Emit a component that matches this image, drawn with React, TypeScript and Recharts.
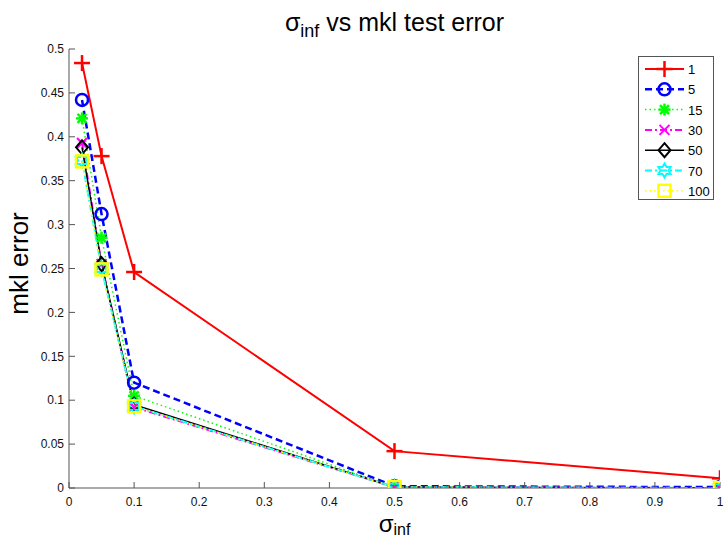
import React from 'react';
import { LineChart, Line, XAxis, YAxis } from 'recharts';

const sigmaValues = [0.02, 0.05, 0.1, 0.5, 1];
const seriesNames = ['1', '5', '15', '30', '50', '70', '100'];
const err1 = [0.484, 0.378, 0.246, 0.042, 0.011];
const err5 = [0.442, 0.312, 0.12, 0.002, 0.001];
const err15 = [0.421, 0.285, 0.105, 0.001, 0.0];
const err30 = [0.393, 0.255, 0.092, 0.001, 0.0];
const err50 = [0.388, 0.255, 0.095, 0.001, 0.0];
const err70 = [0.373, 0.25, 0.093, 0.001, 0.0];
const err100 = [0.372, 0.249, 0.093, 0.001, 0.0];
const xTicks = [0, 0.1, 0.2, 0.3, 0.4, 0.5, 0.6, 0.7, 0.8, 0.9, 1];
const yTicks = [0, 0.05, 0.1, 0.15, 0.2, 0.25, 0.3, 0.35, 0.4, 0.45, 0.5];

const allSeries = [err1, err5, err15, err30, err50, err70, err100];
const data = sigmaValues.map((x, i) => {
  const row: any = { x };
  seriesNames.forEach((n, s) => {
    row['s' + n] = allSeries[s][i];
  });
  return row;
});

type MarkerKind = 'plus' | 'circle' | 'asterisk' | 'cross' | 'diamond' | 'hexagram' | 'square';

const styles: { name: string; color: string; marker: MarkerKind; dash?: string; width: number }[] = [
  { name: '1', color: '#ff0000', marker: 'plus', width: 2 },
  { name: '5', color: '#0000ff', marker: 'circle', dash: '7 4', width: 2.5 },
  { name: '15', color: '#00ff00', marker: 'asterisk', dash: '1.5 3', width: 1.5 },
  { name: '30', color: '#ff00ff', marker: 'cross', dash: '7 3 2 3', width: 2 },
  { name: '50', color: '#000000', marker: 'diamond', width: 1.5 },
  { name: '70', color: '#00ffff', marker: 'hexagram', dash: '7 3 2 3', width: 2 },
  { name: '100', color: '#ffff00', marker: 'square', dash: '1.5 3', width: 1.5 },
];

function Marker({ kind, color, cx, cy }: { kind: MarkerKind; color: string; cx: number; cy: number }) {
  const sw = 2;
  switch (kind) {
    case 'plus':
      return (
        <g stroke={color} strokeWidth={sw + 0.5} fill="none">
          <line x1={cx - 8} y1={cy} x2={cx + 8} y2={cy} />
          <line x1={cx} y1={cy - 8} x2={cx} y2={cy + 8} />
        </g>
      );
    case 'circle':
      return <circle cx={cx} cy={cy} r={6} stroke={color} strokeWidth={sw + 0.5} fill="none" />;
    case 'asterisk':
      return (
        <g stroke={color} strokeWidth={sw + 0.5} fill="none">
          <line x1={cx - 6} y1={cy} x2={cx + 6} y2={cy} />
          <line x1={cx} y1={cy - 6} x2={cx} y2={cy + 6} />
          <line x1={cx - 4.5} y1={cy - 4.5} x2={cx + 4.5} y2={cy + 4.5} />
          <line x1={cx - 4.5} y1={cy + 4.5} x2={cx + 4.5} y2={cy - 4.5} />
        </g>
      );
    case 'cross':
      return (
        <g stroke={color} strokeWidth={sw} fill="none">
          <line x1={cx - 5} y1={cy - 5} x2={cx + 5} y2={cy + 5} />
          <line x1={cx - 5} y1={cy + 5} x2={cx + 5} y2={cy - 5} />
        </g>
      );
    case 'diamond':
      return (
        <polygon
          points={`${cx},${cy - 7} ${cx + 6},${cy} ${cx},${cy + 7} ${cx - 6},${cy}`}
          stroke={color}
          strokeWidth={sw}
          fill="none"
        />
      );
    case 'hexagram': {
      const pts: string[] = [];
      for (let i = 0; i < 12; i++) {
        const a = (Math.PI / 6) * i - Math.PI / 2;
        const r = i % 2 === 0 ? 7 : 4;
        pts.push(`${cx + r * Math.cos(a)},${cy + r * Math.sin(a)}`);
      }
      return <polygon points={pts.join(' ')} stroke={color} strokeWidth={sw} fill="none" />;
    }
    case 'square':
      return <rect x={cx - 6} y={cy - 6} width={12} height={12} stroke={color} strokeWidth={sw + 0.5} fill="none" />;
  }
  return null;
}

const font = '"Liberation Sans", Arial, Helvetica, sans-serif';

function LegendBox() {
  return (
    <div
      style={{
        position: 'absolute',
        left: 638,
        top: 56,
        width: 76,
        height: 144,
        border: '1px solid #555',
        background: '#fff',
        boxSizing: 'border-box',
      }}
    >
      <svg width={76} height={144} style={{ position: 'absolute', left: -1, top: -1 }}>
        {styles.map((s, i) => {
          const y = 13 + i * 20.3;
          return (
            <g key={s.name}>
              <line
                x1={7}
                y1={y}
                x2={46}
                y2={y}
                stroke={s.color}
                strokeWidth={s.width}
                strokeDasharray={s.dash}
              />
              <Marker kind={s.marker} color={s.color} cx={26.5} cy={y} />
              <text x={50} y={y + 5} fontSize={13} fontFamily={font} fill="#000">
                {s.name}
              </text>
            </g>
          );
        })}
      </svg>
    </div>
  );
}

export default function App() {
  const axisColor = '#555';
  const tickStyle = { fontSize: 12, fill: '#111', fontFamily: font };
  return (
    <div style={{ position: 'absolute', left: 0, top: 0, width: 727, height: 539, background: '#fff' }}>
      <div
        style={{
          position: 'absolute',
          left: 69,
          width: 651,
          top: 8,
          textAlign: 'center',
          fontFamily: font,
          fontSize: 25,
          lineHeight: '28px',
          color: '#000',
        }}
      >
        σ<sub style={{ fontSize: 18, lineHeight: 0 }}>inf</sub> vs mkl test error
      </div>
      <LineChart
        width={727}
        height={539}
        data={data}
        margin={{ top: 49, right: 7, bottom: 0, left: 0 }}
      >
        <XAxis
          xAxisId="b"
          dataKey="x"
          type="number"
          domain={[0, 1]}
          ticks={xTicks}
          tickFormatter={(v: number) => String(v)}
          height={51}
          stroke={axisColor}
          tickSize={-6}
          tickMargin={15}
          tick={tickStyle}
          allowDataOverflow
        />
        <XAxis
          xAxisId="t"
          dataKey="x"
          type="number"
          orientation="top"
          domain={[0, 1]}
          ticks={xTicks}
          height={0}
          mirror
          tick={false}
          tickSize={6}
          stroke={axisColor}
        />
        <YAxis
          yAxisId="l"
          type="number"
          domain={[0, 0.5]}
          ticks={yTicks}
          tickFormatter={(v: number) => String(v)}
          width={69}
          stroke={axisColor}
          tickSize={-6}
          tickMargin={11}
          tick={tickStyle}
          allowDataOverflow
          label={{
            value: 'mkl error',
            angle: -90,
            position: 'center',
            dx: -16,
            dy: -5,
            style: { fontSize: 26, fontFamily: font, fill: '#000' },
          }}
        />
        <YAxis
          yAxisId="r"
          type="number"
          orientation="right"
          domain={[0, 0.5]}
          ticks={yTicks}
          width={0}
          mirror
          tick={false}
          tickSize={6}
          stroke={axisColor}
        />
        {styles.map((s) => (
          <Line
            key={s.name}
            xAxisId="b"
            yAxisId="l"
            type="linear"
            dataKey={'s' + s.name}
            stroke={s.color}
            strokeWidth={s.width}
            strokeDasharray={s.dash}
            isAnimationActive={false}
            dot={(p: any) => (
              <Marker key={`${s.name}-${p.index}`} kind={s.marker} color={s.color} cx={p.cx} cy={p.cy} />
            )}
            activeDot={false}
          />
        ))}
      </LineChart>
      <div
        style={{
          position: 'absolute',
          left: 69,
          width: 651,
          top: 512,
          textAlign: 'center',
          fontFamily: font,
          fontSize: 24,
          lineHeight: '24px',
          color: '#000',
        }}
      >
        σ<span style={{ fontSize: 16, verticalAlign: '-3px', lineHeight: 0 }}>inf</span>
      </div>
      <LegendBox />
    </div>
  );
}
